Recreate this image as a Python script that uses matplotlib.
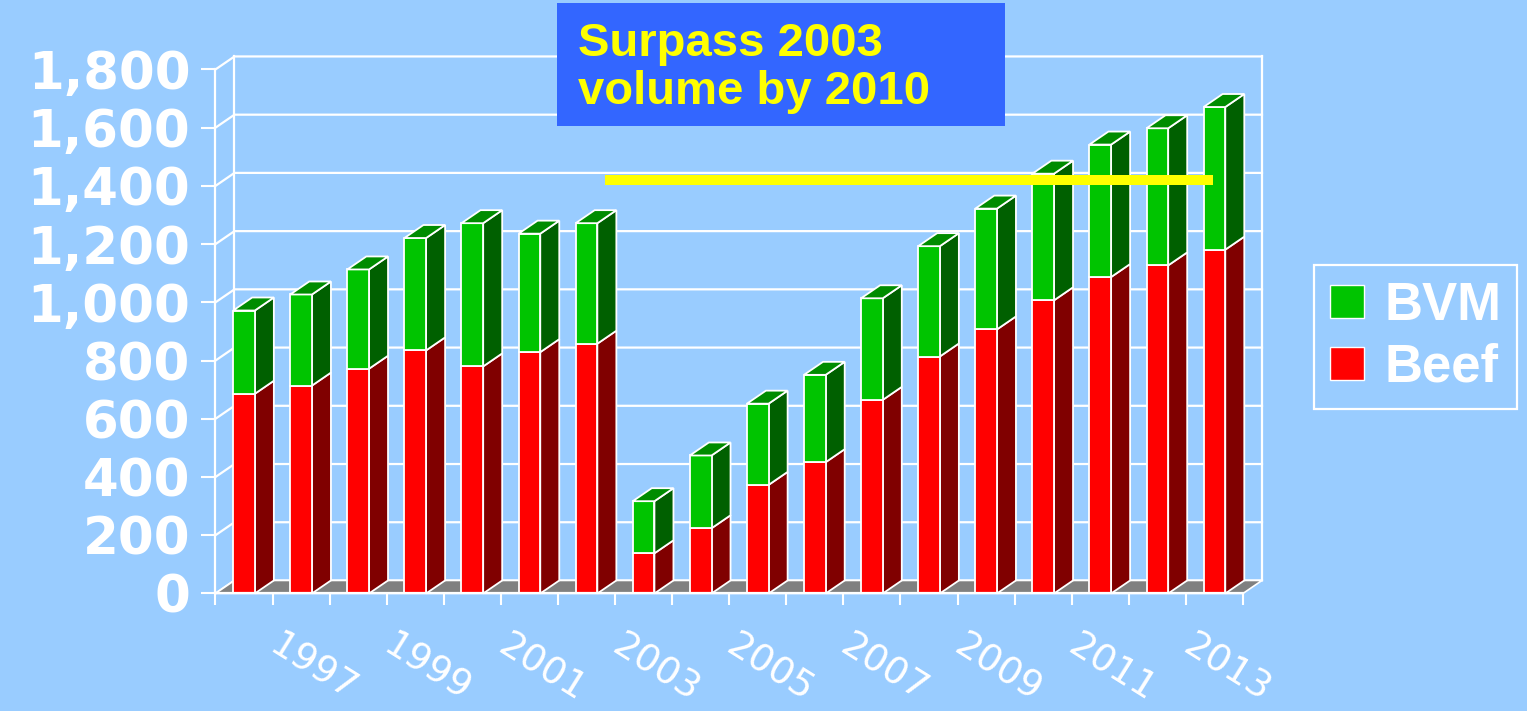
import numpy as np
import matplotlib.pyplot as plt
from matplotlib.patches import Polygon, Rectangle, Patch

# Data (thousand metric tons)
years = list(range(1996, 2014))
beef = [686, 714, 772, 835, 780, 829, 858, 138, 224, 373, 451,
        665, 814, 907, 1007, 1087, 1127, 1181]
bvm = [286, 313, 341, 386, 492, 407, 414, 179, 250, 279, 300,
       349, 379, 415, 435, 455, 471, 490]
y_ticks = list(range(0, 1801, 200))
label_years = [y for y in years if y % 2 == 1]
series_names = ["BVM", "Beef"]

TARGET = 1420                 # the yellow "2003 volume" line
TARGET_SPAN = (6.83, 17.47)   # in category units

# Colours
BG = "#99CCFF"
RED, RED_SIDE = "#FF0000", "#800000"
GREEN, GREEN_SIDE, GREEN_TOP = "#00C400", "#006000", "#008C00"
FLOOR = "#808080"

# fake 3D geometry
DX = 0.333    # depth in categories
DY = 44.7     # depth in value units
HALF = 0.19   # half width of bar front
n = len(years)

fig = plt.figure(figsize=(15.27, 7.11), dpi=100, facecolor=BG)
ax = fig.add_axes([0.1411, 0.1653, 0.6729, 0.737])
ax.set_facecolor("none")
ax.set_xlim(0, n)
ax.set_ylim(0, 1800)

# back wall + side wall grid
for v in y_ticks:
    ax.plot([0, DX, n + DX], [v, v + DY, v + DY], color="white", lw=1.6,
            clip_on=False, zorder=1)
for xx in (DX, n + DX):
    ax.plot([xx, xx], [DY, 1800 + DY], color="white", lw=1.6,
            clip_on=False, zorder=1)

# floor
ax.add_patch(Polygon([(0, 0), (n, 0), (n + DX, DY), (DX, DY)],
                     closed=True, facecolor=FLOOR, edgecolor="white",
                     lw=1.2, clip_on=False, zorder=2))


def box(x0, x1, lo, hi, front, side, top=None):
    kw = dict(closed=True, edgecolor="white", lw=1.3, clip_on=False, zorder=3)
    ax.add_patch(Polygon([(x1, lo), (x1 + DX, lo + DY), (x1 + DX, hi + DY), (x1, hi)],
                         facecolor=side, **kw))
    ax.add_patch(Polygon([(x0, lo), (x1, lo), (x1, hi), (x0, hi)],
                         facecolor=front, **kw))
    if top is not None:
        ax.add_patch(Polygon([(x0, hi), (x1, hi), (x1 + DX, hi + DY), (x0 + DX, hi + DY)],
                             facecolor=top, **kw))


for i, (b, g) in enumerate(zip(beef, bvm)):
    x0, x1 = i + 0.5 - HALF, i + 0.5 + HALF
    box(x0, x1, 0, b, RED, RED_SIDE)
    box(x0, x1, b, b + g, GREEN, GREEN_SIDE, GREEN_TOP)

# target line
ax.plot(TARGET_SPAN, [TARGET, TARGET], color="#FFFF00", lw=7.2,
        solid_capstyle="butt", clip_on=False, zorder=5)

# axes styling
for s in ("top", "right"):
    ax.spines[s].set_visible(False)
for s in ("left", "bottom"):
    ax.spines[s].set_color("white")
    ax.spines[s].set_linewidth(1.6)
    ax.spines[s].set_zorder(4)

ax.set_yticks(y_ticks)
ax.set_yticklabels([f"{v:,}" for v in y_ticks], fontsize=37,
                   fontweight="bold", family="DejaVu Sans", color="white")
ax.tick_params(axis="y", colors="white", length=10, width=1.5, pad=8)

ax.set_xticks(np.arange(n + 1), minor=True)
ax.set_xticks([years.index(y) + 0.5 + 0.2 for y in label_years])
ax.set_xticklabels([str(y) for y in label_years], fontsize=27,
                   family="DejaVu Sans", color="white",
                   rotation=-32, ha="center", va="top")
ax.tick_params(axis="x", which="major", length=0, pad=25)
ax.tick_params(axis="x", which="minor", length=8.5, width=1.5, colors="white")

# title box
fig.patches.append(Rectangle((557 / 1527, 1 - 126 / 711), 448 / 1527, 123 / 711,
                             transform=fig.transFigure, facecolor="#3366FF",
                             edgecolor="none", zorder=6))
title_kw = dict(fontsize=34, fontweight="bold", family="Liberation Sans",
                color="#FFFF00", ha="left", va="baseline", zorder=7)
fig.text(578 / 1527, 1 - 56 / 711, "Surpass 2003", **title_kw)
fig.text(578 / 1527, 1 - 104 / 711, "volume by 2010", **title_kw)

# legend
handles = [Patch(facecolor=GREEN, edgecolor="white"),
           Patch(facecolor=RED, edgecolor="white")]
leg = fig.legend(handles, series_names, loc="center left",
                 bbox_to_anchor=(1314 / 1527, 1 - 337 / 711),
                 prop=dict(family="Liberation Sans", weight="bold", size=38),
                 frameon=True, fancybox=False, facecolor=BG, edgecolor="white",
                 framealpha=1, handlelength=0.65, handleheight=0.58,
                 handletextpad=0.38, labelspacing=0.22, borderpad=0.3,
                 borderaxespad=0)
leg.get_frame().set_linewidth(1.6)
for t in leg.get_texts():
    t.set_color("white")

fig.savefig("out.png", dpi=100, facecolor=BG)
